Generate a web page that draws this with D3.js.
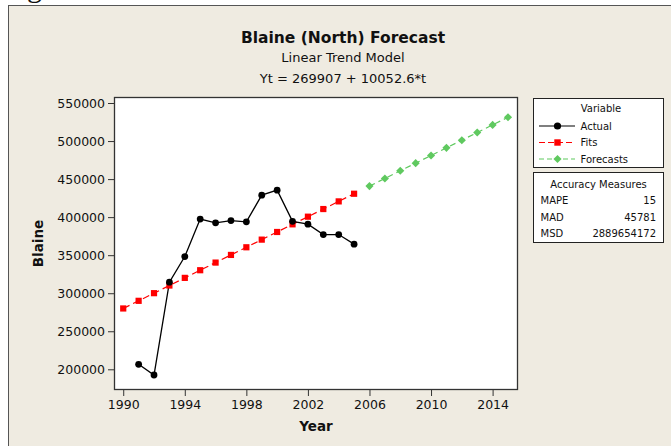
<!DOCTYPE html>
<html>
<head>
<meta charset="utf-8">
<script src="https://cdn.jsdelivr.net/npm/d3@7"></script>
<style>
  html, body { margin: 0; padding: 0; background: #ffffff; }
  svg { display: block; }
  text { font-family: "DejaVu Sans", Verdana, sans-serif; fill: #111; }
</style>
</head>
<body>
<svg id="chart" width="671" height="446"></svg>
<script>
// ---- Data ----
const actualYears = [1991, 1992, 1993, 1994, 1995, 1996, 1997, 1998, 1999, 2000, 2001, 2002, 2003, 2004, 2005];
const actualValues = [206600, 192500, 314500, 348200, 397400, 392500, 395500, 393800, 428900, 435500, 394500, 390800, 377100, 377100, 364500];

const fitYears = [1990, 1991, 1992, 1993, 1994, 1995, 1996, 1997, 1998, 1999, 2000, 2001, 2002, 2003, 2004, 2005];
const fitValues = [279960, 290012, 300065, 310117, 320170, 330223, 340275, 350328, 360380, 370433, 380486, 390538, 400591, 410643, 420696, 430749];

const forecastYears = [2006, 2007, 2008, 2009, 2010, 2011, 2012, 2013, 2014, 2015];
const forecastValues = [440801, 450854, 460906, 470959, 481012, 491064, 501117, 511169, 521222, 531275];

const xTicks = [1990, 1994, 1998, 2002, 2006, 2010, 2014];
const yTicks = [200000, 250000, 300000, 350000, 400000, 450000, 500000, 550000];

const titleText = "Blaine (North) Forecast";
const subtitleText = "Linear Trend Model";
const equationText = "Yt = 269907 + 10052.6*t";
const xLabel = "Year";
const yLabel = "Blaine";

const legendTitle = "Variable";
const legendNames = ["Actual", "Fits", "Forecasts"];
const accuracyTitle = "Accuracy Measures";
const accuracyNames = ["MAPE", "MAD", "MSD"];
const accuracyValues = ["15", "45781", "2889654172"];

// ---- Layout ----
const svg = d3.select("#chart");
const W = 671, H = 446;
const plot = { left: 114, top: 97, right: 518, bottom: 390 };
const beige = "#efebe1";
const axisColor = "#333";
const red = "#ff0000";
const green = "#5fc95f";

// page background and panel
svg.append("rect").attr("x", 0).attr("y", 0).attr("width", W).attr("height", H).attr("fill", "#fff");
svg.append("text").attr("x", 27).attr("y", -3)
  .style("font-family", "'Liberation Serif', serif").style("font-size", "30px").text("g");
svg.append("rect").attr("x", 8.5).attr("y", 5.5).attr("width", W + 10).attr("height", H + 10)
  .attr("fill", beige).attr("stroke", "#555").attr("stroke-width", 1);

// scales
const x = d3.scaleLinear().domain([1989.4, 2015.65]).range([plot.left, plot.right]);
const y = d3.scaleLinear().domain([172800, 557900]).range([plot.bottom, plot.top]);

// plot area
svg.append("rect").attr("x", plot.left).attr("y", plot.top)
  .attr("width", plot.right - plot.left).attr("height", plot.bottom - plot.top)
  .attr("fill", "#fff");

// titles
const cx = 343;
svg.append("text").attr("x", cx).attr("y", 43).attr("text-anchor", "middle")
  .style("font-size", "15.5px").style("font-weight", "bold").text(titleText);
svg.append("text").attr("x", cx).attr("y", 62).attr("text-anchor", "middle")
  .style("font-size", "13px").text(subtitleText);
svg.append("text").attr("x", cx).attr("y", 83).attr("text-anchor", "middle")
  .style("font-size", "13px").text(equationText);

// axes
const xAxis = d3.axisBottom(x).tickValues(xTicks).tickFormat(d3.format("d")).tickSize(6).tickPadding(4);
const yAxis = d3.axisLeft(y).tickValues(yTicks).tickFormat(d3.format("d")).tickSize(6).tickPadding(3);

const gx = svg.append("g").attr("transform", `translate(0,${plot.bottom})`).call(xAxis);
const gy = svg.append("g").attr("transform", `translate(${plot.left},0)`).call(yAxis);
[gx, gy].forEach(g => {
  g.select(".domain").remove();
  g.selectAll(".tick line").attr("stroke", axisColor);
  g.selectAll(".tick text").style("font-family", "'DejaVu Sans', sans-serif")
    .style("font-size", "12.5px").attr("fill", "#111");
});

svg.append("text").attr("x", (plot.left + plot.right) / 2).attr("y", 431).attr("text-anchor", "middle")
  .style("font-size", "13.5px").style("font-weight", "bold").text(xLabel);
svg.append("text").attr("transform", `translate(43,${(plot.top + plot.bottom) / 2}) rotate(-90)`)
  .attr("text-anchor", "middle").style("font-size", "13.5px").style("font-weight", "bold").text(yLabel);

// series
const actual = actualYears.map((d, i) => ({ x: d, y: actualValues[i] }));
const fits = fitYears.map((d, i) => ({ x: d, y: fitValues[i] }));
const forecasts = forecastYears.map((d, i) => ({ x: d, y: forecastValues[i] }));

const line = d3.line().x(d => x(d.x)).y(d => y(d.y));

svg.append("path").datum(fits).attr("d", line).attr("fill", "none")
  .attr("stroke", red).attr("stroke-width", 1.2).attr("stroke-dasharray", "7,4");
svg.append("path").datum(forecasts).attr("d", line).attr("fill", "none")
  .attr("stroke", green).attr("stroke-width", 1.2).attr("stroke-dasharray", "6,4");
svg.append("path").datum(actual).attr("d", line).attr("fill", "none")
  .attr("stroke", "#000").attr("stroke-width", 1.3);

const sq = 6.2;
svg.append("g").selectAll("rect").data(fits).join("rect")
  .attr("x", d => x(d.x) - sq / 2).attr("y", d => y(d.y) - sq / 2)
  .attr("width", sq).attr("height", sq).attr("fill", red);

const diamond = d3.symbol().type(d3.symbolDiamond2).size(42);
svg.append("g").selectAll("path").data(forecasts).join("path")
  .attr("transform", d => `translate(${x(d.x)},${y(d.y)})`)
  .attr("d", diamond).attr("fill", green);

svg.append("g").selectAll("circle").data(actual).join("circle")
  .attr("cx", d => x(d.x)).attr("cy", d => y(d.y)).attr("r", 3.4).attr("fill", "#000");

// plot border
svg.append("rect").attr("x", plot.left + 0.5).attr("y", plot.top + 0.5)
  .attr("width", plot.right - plot.left - 1).attr("height", plot.bottom - plot.top - 1)
  .attr("fill", "none").attr("stroke", axisColor).attr("stroke-width", 1.3);

// legend
const lg = { x: 533.5, y: 98.5, w: 130, h: 69 };
svg.append("rect").attr("x", lg.x).attr("y", lg.y).attr("width", lg.w).attr("height", lg.h)
  .attr("fill", "#fff").attr("stroke", "#222");
svg.append("text").attr("x", 601).attr("y", 112).attr("text-anchor", "middle")
  .style("font-size", "10px").text(legendTitle);

const rowY = [126, 142.5, 159];
const lineX0 = 539, lineX1 = 575, markX = 557.5, textX = 580.5;
const styles = [
  { stroke: "#000", dash: null },
  { stroke: red, dash: "6,3" },
  { stroke: green, dash: "5,3" }
];
legendNames.forEach((name, i) => {
  const ry = rowY[i];
  svg.append("line").attr("x1", lineX0).attr("x2", lineX1).attr("y1", ry).attr("y2", ry)
    .attr("stroke", styles[i].stroke).attr("stroke-width", 1.2)
    .attr("stroke-dasharray", styles[i].dash);
  if (i === 0) {
    svg.append("circle").attr("cx", markX).attr("cy", ry).attr("r", 3.6).attr("fill", "#000");
  } else if (i === 1) {
    svg.append("rect").attr("x", markX - 3.2).attr("y", ry - 3.2).attr("width", 6.4).attr("height", 6.4).attr("fill", red);
  } else {
    svg.append("path").attr("transform", `translate(${markX},${ry})`).attr("d", diamond).attr("fill", green);
  }
  svg.append("text").attr("x", textX).attr("y", ry + 3.6).style("font-size", "10px").text(name);
});

// accuracy measures
const ac = { x: 533.5, y: 172.5, w: 130, h: 70 };
svg.append("rect").attr("x", ac.x).attr("y", ac.y).attr("width", ac.w).attr("height", ac.h)
  .attr("fill", "#fff").attr("stroke", "#222");
svg.append("text").attr("x", 598.5).attr("y", 187.7).attr("text-anchor", "middle")
  .style("font-size", "10px").text(accuracyTitle);
const accY = [204.2, 220.6, 237];
accuracyNames.forEach((n, i) => {
  svg.append("text").attr("x", 540.5).attr("y", accY[i]).style("font-size", "10px").text(n);
  svg.append("text").attr("x", 656).attr("y", accY[i]).attr("text-anchor", "end")
    .style("font-size", "10px").text(accuracyValues[i]);
});
</script>
</body>
</html>
